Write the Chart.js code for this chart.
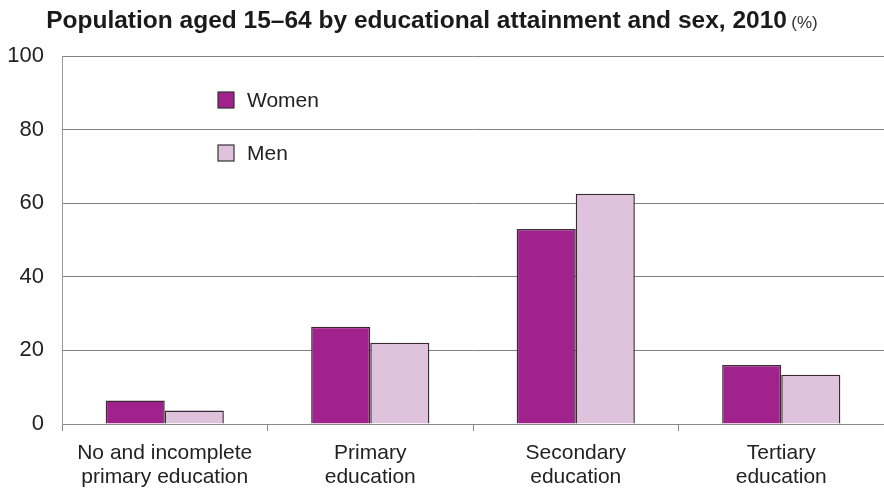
<!DOCTYPE html>
<html>
<head>
<meta charset="utf-8">
<script src="https://cdn.jsdelivr.net/npm/chart.js@4.4.1/dist/chart.umd.min.js"></script>
<style>
  html, body { margin: 0; padding: 0; background: #fff; }
  #wrap { position: relative; width: 884px; height: 490px; }
  #title { position: absolute; left: 0; top: 5px; width: 864px; text-align: center; line-height: 29px;
    font-family: "Liberation Sans", Arial, sans-serif; color: #1a1a1a; }
  #title b { font-size: 24.5px; }
  #title span { font-size: 17px; color: #333; }
</style>
</head>
<body>
<div id="wrap">
  <div id="title"><b>Population aged 15–64 by educational attainment and sex, 2010</b> <span>(%)</span></div>
  <canvas id="chart1" width="884" height="490"></canvas>
</div>
<script>
var categories = [
    ['No and incomplete', 'primary education'],
    ['Primary', 'education'],
    ['Secondary', 'education'],
    ['Tertiary', 'education']
];
var women = [6.4, 26.4, 53.0, 16.0];
var men = [3.7, 22.1, 62.6, 13.4];
var yTicks = [0, 20, 40, 60, 80, 100];

// legend drawn inside the plot, top-left
var insideLegend = {
    id: 'insideLegend',
    afterDraw: function (chart) {
        var ctx = chart.ctx;
        ctx.save();
        ctx.font = '21px "Liberation Sans", Arial, sans-serif';
        ctx.textBaseline = 'middle';
        chart.data.datasets.forEach(function (ds, i) {
            var y = 92 + i * 53;
            ctx.fillStyle = ds.backgroundColor;
            ctx.fillRect(218, y, 16, 16);
            ctx.strokeStyle = '#333';
            ctx.lineWidth = 1.2;
            ctx.strokeRect(218, y, 16, 16);
            ctx.fillStyle = '#222';
            ctx.fillText(ds.label, 247, y + 9);
        });
        ctx.restore();
    }
};

const chart1 = new Chart(document.getElementById('chart1'), {
    type: 'bar',
    data: {
        labels: categories,
        datasets: [
            { label: 'Women', data: women, backgroundColor: '#a2228d', borderColor: '#3b2a36', borderWidth: 1.5 },
            { label: 'Men', data: men, backgroundColor: '#dfc2dc', borderColor: '#3b2a36', borderWidth: 1.5 }
        ]
    },
    options: {
        responsive: false,
        animation: false,
        layout: { padding: { top: 56, right: 0, left: 0, bottom: 0 } },
        categoryPercentage: 0.575,
        barPercentage: 1,
        plugins: { legend: { display: false }, tooltip: { enabled: false } },
        scales: {
            x: {
                afterFit: function (s) { s.height = 66; },
                grid: { offset: true, drawOnChartArea: false, drawTicks: true, tickLength: 7, color: '#888' },
                border: { color: '#888', width: 1 },
                ticks: { color: '#222', padding: 10, font: { family: '"Liberation Sans", Arial, sans-serif', size: 21, lineHeight: 1.15 } }
            },
            y: {
                min: 0, max: 100,
                afterFit: function (s) { s.width = 62; },
                afterBuildTicks: function (s) { s.ticks = yTicks.map(function (v) { return { value: v }; }); },
                grid: { drawTicks: false, color: '#808080', lineWidth: 1 },
                border: { color: '#999', width: 1 },
                ticks: { color: '#222', padding: 18, font: { family: '"Liberation Sans", Arial, sans-serif', size: 22 } }
            }
        }
    },
    plugins: [insideLegend]
});
</script>
</body>
</html>
